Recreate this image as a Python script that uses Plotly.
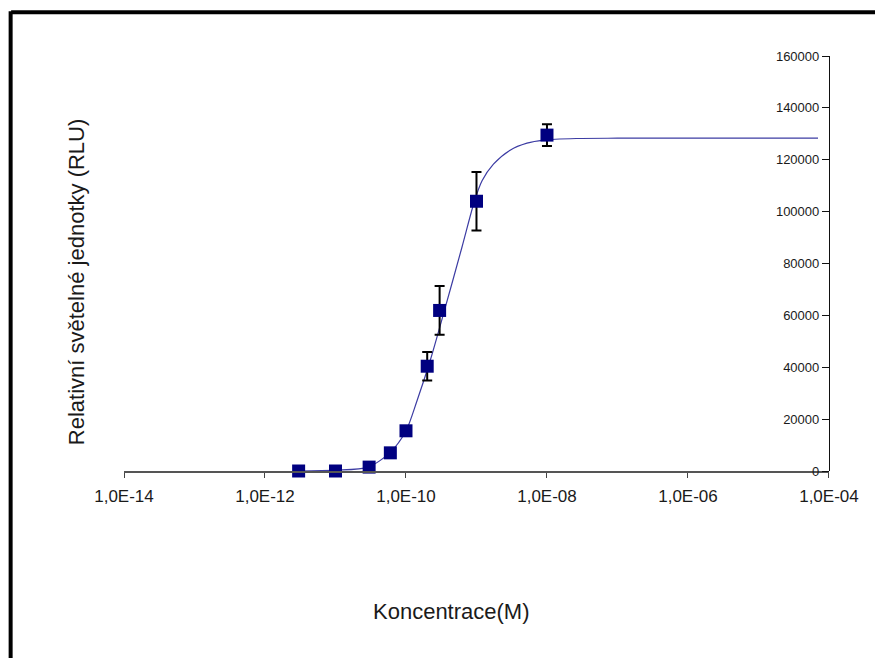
import plotly.graph_objects as go

# ---- data ----
conc = [3e-12, 1e-11, 3e-11, 6e-11, 1e-10, 2e-10, 3e-10, 1e-9, 1e-8]
rlu = [0, 0, 1500, 7000, 15500, 40400, 61900, 104000, 129500]
rlu_err = [0, 0, 0, 0, 0, 5500, 9400, 11300, 4200]

fit_conc = [3e-12, 1e-11, 2.9e-11, 5.9e-11, 1e-10, 1.43e-10, 2.21e-10, 3.41e-10,
            6.22e-10, 9.4e-10, 1.2e-9, 1.74e-9, 3.0e-9, 5.2e-9, 8.9e-9, 2.6e-8,
            1e-7, 1e-6, 7e-5]
fit_rlu = [0, 300, 1500, 7000, 15500, 27000, 42700, 60650,
           86270, 104200, 111900, 118300, 123700, 126400, 127600, 128200,
           128300, 128300, 128300]

x_tickvals = [1e-14, 1e-12, 1e-10, 1e-8, 1e-6, 1e-4]
x_ticktext = ["1,0E-14", "1,0E-12", "1,0E-10", "1,0E-08", "1,0E-06", "1,0E-04"]
y_tickvals = [0, 20000, 40000, 60000, 80000, 100000, 120000, 140000, 160000]
y_ticktext = ["0", "20000", "40000", "60000", "80000", "100000", "120000", "140000", "160000"]

x_title = "Koncentrace(M)"
y_title = "Relativní světelné jednotky (RLU)"

FONT = "Liberation Sans, Arial, sans-serif"

fig = go.Figure()

fig.add_trace(go.Scatter(
    x=fit_conc, y=fit_rlu, mode="lines",
    line=dict(color="#3c3ca3", width=1.2, shape="spline", smoothing=0.8),
    hoverinfo="skip", cliponaxis=False,
))

fig.add_trace(go.Scatter(
    x=conc, y=rlu, mode="markers",
    marker=dict(symbol="square", size=13, color="#000080",
                line=dict(width=0)),
    error_y=dict(type="data", array=rlu_err, visible=True,
                 color="black", thickness=2, width=5),
    cliponaxis=False,
))

fig.update_layout(
    width=875, height=650,
    margin=dict(l=115.5, r=54, t=47.7, b=187),
    paper_bgcolor="white", plot_bgcolor="white",
    showlegend=False,
    font=dict(family=FONT, color="#1a1a1a"),
    xaxis=dict(
        type="log", range=[-14, -3.9995],
        tickvals=x_tickvals, ticktext=x_ticktext,
        ticks="outside", ticklen=5, tickwidth=1, tickcolor="#444",
        showline=True, linecolor="#555", linewidth=1.5,
        showgrid=False, zeroline=False,
        tickfont=dict(size=17, family=FONT, color="#1a1a1a"),
        ticklabelstandoff=4,
    ),
    yaxis=dict(
        range=[0, 160000],
        tickvals=y_tickvals, ticktext=y_ticktext,
        anchor="free", position=1, side="left",
        ticks="outside", ticklen=7, tickwidth=1, tickcolor="#111",
        showline=True, linecolor="#111", linewidth=1.2,
        showgrid=False, zeroline=False,
        tickfont=dict(size=13, family=FONT, color="#1a1a1a"),
    ),
    annotations=[
        dict(text=y_title, xref="paper", yref="paper", x=-0.0673, y=0.4539,
             xanchor="center", yanchor="middle", textangle=-90, showarrow=False,
             font=dict(size=22, family=FONT, color="#1a1a1a")),
        dict(text=x_title, xref="paper", yref="paper", x=0.4652, y=-0.3395,
             xanchor="center", yanchor="middle", showarrow=False,
             font=dict(size=22, family=FONT, color="#1a1a1a")),
    ],
    shapes=[
        # outer frame: top and left edges
        dict(type="line", xref="paper", yref="paper",
             x0=-0.1601, x1=1.1, y0=1.1052, y1=1.1052,
             line=dict(color="black", width=4)),
        dict(type="line", xref="paper", yref="paper",
             x0=-0.1608, x1=-0.1608, y0=1.1076, y1=-0.46,
             line=dict(color="black", width=4)),
    ],
)

fig.write_html("out.html")
